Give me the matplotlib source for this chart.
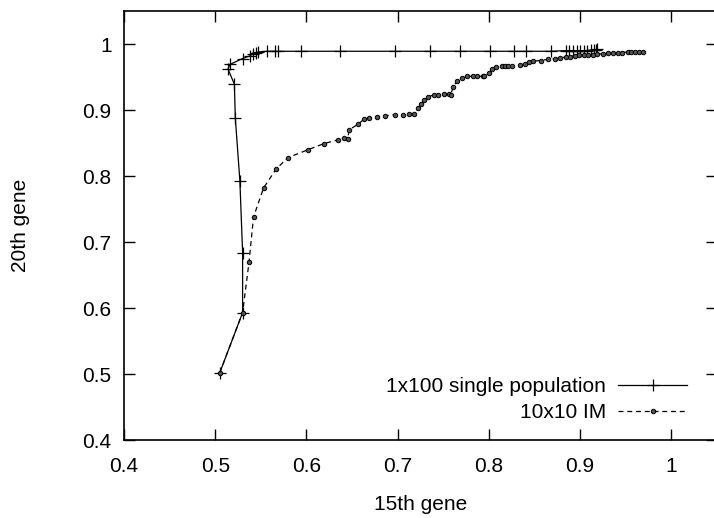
import numpy as np
import matplotlib
matplotlib.use('Agg')
import matplotlib.pyplot as plt

plt.rcParams['font.family'] = ['Liberation Sans', 'DejaVu Sans']

# 1x100 single population
single_x = [0.505, 0.530, 0.530, 0.527, 0.522, 0.521, 0.514, 0.516, 0.530, 0.538,
            0.541, 0.545, 0.547, 0.557, 0.565, 0.569, 0.594, 0.637, 0.697, 0.735,
            0.768, 0.801, 0.827, 0.841, 0.868, 0.884, 0.888, 0.892, 0.896, 0.900,
            0.904, 0.908, 0.912, 0.915, 0.917, 0.919]
single_y = [0.502, 0.593, 0.684, 0.793, 0.888, 0.939, 0.962, 0.969, 0.978, 0.982,
            0.985, 0.986, 0.988, 0.989, 0.989, 0.989, 0.989, 0.989, 0.989, 0.989,
            0.989, 0.989, 0.989, 0.989, 0.989, 0.990, 0.990, 0.990, 0.990, 0.990,
            0.990, 0.990, 0.991, 0.991, 0.991, 0.992]

# 10x10 IM
im_x = [0.505, 0.530, 0.537, 0.542, 0.553, 0.567, 0.580, 0.602, 0.619, 0.635,
        0.641, 0.645, 0.647, 0.657, 0.663, 0.669, 0.677, 0.686, 0.697, 0.706,
        0.712, 0.718, 0.722, 0.726, 0.729, 0.733, 0.740, 0.744, 0.751, 0.756,
        0.758, 0.761, 0.765, 0.771, 0.776, 0.782, 0.787, 0.793, 0.795, 0.800,
        0.803, 0.808, 0.814, 0.818, 0.821, 0.825, 0.834, 0.840, 0.844, 0.848,
        0.857, 0.865, 0.872, 0.878, 0.884, 0.889, 0.894, 0.899, 0.904, 0.909,
        0.914, 0.919, 0.925, 0.930, 0.936, 0.941, 0.946, 0.952, 0.956, 0.960,
        0.964, 0.969]
im_y = [0.502, 0.593, 0.669, 0.738, 0.782, 0.811, 0.828, 0.840, 0.849, 0.855,
        0.858, 0.856, 0.870, 0.879, 0.886, 0.888, 0.890, 0.891, 0.893, 0.892,
        0.894, 0.894, 0.903, 0.909, 0.915, 0.920, 0.923, 0.923, 0.924, 0.924,
        0.923, 0.935, 0.944, 0.948, 0.951, 0.951, 0.951, 0.951, 0.951, 0.956,
        0.962, 0.965, 0.966, 0.966, 0.966, 0.966, 0.968, 0.970, 0.972, 0.974,
        0.975, 0.977, 0.978, 0.979, 0.980, 0.981, 0.982, 0.983, 0.983, 0.984,
        0.984, 0.985, 0.985, 0.986, 0.986, 0.986, 0.987, 0.988, 0.988, 0.988,
        0.988, 0.988]

fig = plt.figure(figsize=(7.14, 5.18), dpi=100)
ax = fig.add_axes([124 / 714, 78 / 518, 593 / 714, 429 / 518])

ax.plot(single_x, single_y, color='black', lw=0.9, marker='+', ms=8, mew=0.9,
        label='1x100 single population')
ax.plot(im_x, im_y, color='black', lw=0.9, ls=(0, (4, 3)), marker='o', ms=3.2,
        mfc='#555555', mec='black', mew=0.7, label='10x10 IM')

ax.set_xlim(0.4, 1.05)
ax.set_ylim(0.4, 1.05)
ax.set_xticks([0.4, 0.5, 0.6, 0.7, 0.8, 0.9, 1.0])
ax.set_xticklabels(['0.4', '0.5', '0.6', '0.7', '0.8', '0.9', '1'])
ax.set_yticks([0.4, 0.5, 0.6, 0.7, 0.8, 0.9, 1.0])
ax.set_yticklabels(['0.4', '0.5', '0.6', '0.7', '0.8', '0.9', '1'])
ax.tick_params(direction='in', length=8, width=1, labelsize=15,
               top=True, right=True)
ax.tick_params(axis='x', pad=12)
ax.tick_params(axis='y', pad=9)
for s in ax.spines.values():
    s.set_linewidth(1.2)

ax.set_xlabel('15th gene', fontsize=15, labelpad=14)
ax.set_ylabel('20th gene', fontsize=15, labelpad=38)

ax.legend(loc='lower right', bbox_to_anchor=(687 / 714, 96 / 518),
          bbox_transform=fig.transFigure, frameon=False, markerfirst=False,
          fontsize=15, borderpad=0, borderaxespad=0, handlelength=3.3,
          handletextpad=0.6, labelspacing=0.33)

fig.savefig('out.png', dpi=100)
